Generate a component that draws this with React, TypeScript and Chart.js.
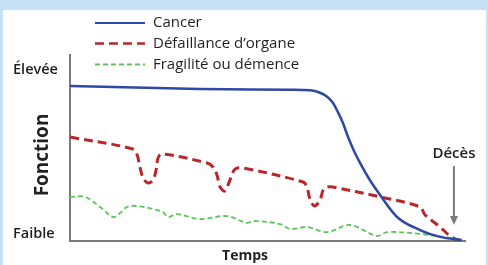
import React, { useEffect, useRef } from "react";
import { Chart, registerables } from "chart.js";

Chart.register(...registerables);

// ---- data (x: time 0..100, y: function 0..100) ----
const cancerX = [0, 32.9, 55.7, 60.8, 63.3, 65.1, 66.6, 67.8, 69.1, 70.4, 71.9, 73.7, 75.9, 78.5, 82.8, 88.6, 93.7, 99.2];
const cancerY = [83.3, 81.7, 81.3, 81.0, 79.7, 77.6, 74.2, 69.4, 63.4, 55.9, 48.4, 40.9, 32.8, 24.7, 12.9, 5.9, 2.2, 0.5];

const organX = [0, 15.9, 17.0, 17.7, 18.5, 19.7, 21.0, 21.8, 22.3, 23.3, 34.7, 36.2, 37.2, 38.0, 39.2, 40.5, 41.8, 43.8, 59.0, 60.0, 60.6, 61.3, 62.0, 63.3, 64.1, 65.1, 66.6, 78.5, 88.6, 89.9, 93.7, 96.2, 98.0];
const organY = [55.9, 49.5, 46.2, 39.8, 33.9, 31.2, 32.8, 38.2, 44.6, 46.8, 41.9, 39.8, 35.5, 29.0, 26.9, 32.8, 38.7, 39.2, 31.7, 29.0, 23.5, 20.0, 18.8, 22.0, 27.4, 29.0, 29.0, 23.7, 18.3, 14.0, 7.5, 2.7, 0.5];

const frailX = [0, 3.8, 7.6, 10.9, 12.7, 14.4, 17.0, 21.0, 23.5, 24.8, 27.1, 32.9, 39.7, 44.8, 46.3, 53.2, 55.7, 60.0, 65.1, 70.9, 77.7, 80.3, 88.6, 94.4, 98.7];
const frailY = [23.7, 23.7, 18.3, 12.9, 15.1, 18.3, 18.8, 17.2, 15.6, 12.9, 14.5, 11.8, 13.4, 9.7, 10.8, 9.1, 6.5, 7.5, 4.8, 8.6, 2.7, 4.8, 3.8, 2.2, 1.1];

const seriesNames = ["Cancer", "Défaillance d\u2019organe", "Fragilité ou démence"];
const yTickValues = [92, 4];
const yTickLabels = ["Élevée", "Faible"];
const yAxisTitle = "Fonction";
const xAxisTitle = "Temps";
const deathLabel = "Décès";
const deathX = 97.2;

const COLORS = ["#2f47a6", "#b8272c", "#5cc55a"];
const DASHES: number[][] = [[], [9, 5], [5, 3]];
const WIDTHS = [2.5, 3, 1.8];
const FONT = "'Open Sans', 'Noto Sans', sans-serif";

const toPts = (xs: number[], ys: number[]) => xs.map((x, i) => ({ x, y: ys[i] }));

const overlayPlugin = {
  id: "overlay",
  afterDraw(chart: any) {
    const ctx = chart.ctx;
    const xs = chart.scales.x;
    const ys = chart.scales.y;
    ctx.save();
    // legend
    const legY = [23, 43.5, 64.5];
    for (let i = 0; i < 3; i++) {
      ctx.beginPath();
      ctx.setLineDash(DASHES[i]);
      ctx.strokeStyle = COLORS[i];
      ctx.lineWidth = i === 0 ? 2 : i === 1 ? 2.5 : 1.8;
      ctx.moveTo(95, legY[i]);
      ctx.lineTo(145, legY[i]);
      ctx.stroke();
      ctx.setLineDash([]);
      ctx.fillStyle = "#231f20";
      ctx.font = `500 15px ${FONT}`;
      ctx.textAlign = "left";
      ctx.textBaseline = "middle";
      ctx.fillText(seriesNames[i], 153, legY[i]);
    }
    // y title
    ctx.save();
    ctx.translate(43, (ys.top + ys.bottom) / 2 + 7);
    ctx.rotate(-Math.PI / 2);
    ctx.font = `bold 19px ${FONT}`;
    ctx.textAlign = "center";
    ctx.textBaseline = "middle";
    ctx.fillStyle = "#231f20";
    ctx.fillText(yAxisTitle, 0, 0);
    ctx.restore();
    // x title
    ctx.font = `bold 14px ${FONT}`;
    ctx.textAlign = "center";
    ctx.textBaseline = "middle";
    ctx.fillStyle = "#231f20";
    ctx.fillText(xAxisTitle, 245, 256);
    // death arrow
    const ax = xs.getPixelForValue(deathX);
    ctx.font = `600 15px ${FONT}`;
    ctx.fillText(deathLabel, ax, 154);
    ctx.strokeStyle = "#7a7a7a";
    ctx.fillStyle = "#7a7a7a";
    ctx.lineWidth = 2;
    ctx.beginPath();
    ctx.moveTo(ax, 166);
    ctx.lineTo(ax, 218);
    ctx.stroke();
    ctx.beginPath();
    ctx.moveTo(ax - 4, 216);
    ctx.lineTo(ax + 4, 216);
    ctx.lineTo(ax, 225);
    ctx.closePath();
    ctx.fill();
    ctx.restore();
  },
};

export default function App() {
  const ref = useRef<HTMLCanvasElement>(null);
  useEffect(() => {
    document.body.style.margin = "0";
    const chart = new Chart(ref.current as HTMLCanvasElement, {
      type: "line",
      data: {
        datasets: [
          { label: seriesNames[0], data: toPts(cancerX, cancerY) },
          { label: seriesNames[1], data: toPts(organX, organY) },
          { label: seriesNames[2], data: toPts(frailX, frailY) },
        ].map((d, i) => ({
          ...d,
          borderColor: COLORS[i],
          borderWidth: WIDTHS[i],
          borderDash: DASHES[i],
          pointRadius: 0,
          tension: 0.35,
          cubicInterpolationMode: (i === 0 ? "monotone" : "default") as any,
          fill: false,
          clip: 6,
        })),
      },
      options: {
        animation: false,
        responsive: false,
        events: [],
        layout: { padding: { left: 13, top: 55, right: 23, bottom: 0 } },
        plugins: { legend: { display: false }, tooltip: { enabled: false } },
        scales: {
          x: {
            type: "linear",
            min: 0,
            max: 100,
            grid: { display: false, drawTicks: false },
            ticks: { display: false },
            border: { display: true, color: "#7a7a7a", width: 2 },
            afterFit: (s: any) => {
              s.height = 24;
            },
          },
          y: {
            type: "linear",
            min: 0,
            max: 100,
            grid: { display: false, drawTicks: false },
            border: { display: true, color: "#7a7a7a", width: 2 },
            afterBuildTicks: (s: any) => {
              s.ticks = yTickValues.map((v) => ({ value: v }));
            },
            ticks: {
              autoSkip: false,
              crossAlign: "far",
              color: "#231f20",
              font: { family: FONT, size: 14.5, weight: 600 },
              callback: (_v: any, i: number) => yTickLabels[i],
            },
            afterFit: (s: any) => {
              s.width = 57;
            },
          },
        },
      },
      plugins: [overlayPlugin],
    });
    return () => chart.destroy();
  }, []);
  return (
    <div style={{ position: "relative", width: 488, height: 265, background: "#c6e0f5", overflow: "hidden" }}>
      <div style={{ position: "absolute", left: 3, top: 10, right: 2, bottom: 0, background: "#ffffff" }} />
      <canvas ref={ref} width={488} height={265} style={{ position: "absolute", left: 0, top: 0 }} />
    </div>
  );
}
